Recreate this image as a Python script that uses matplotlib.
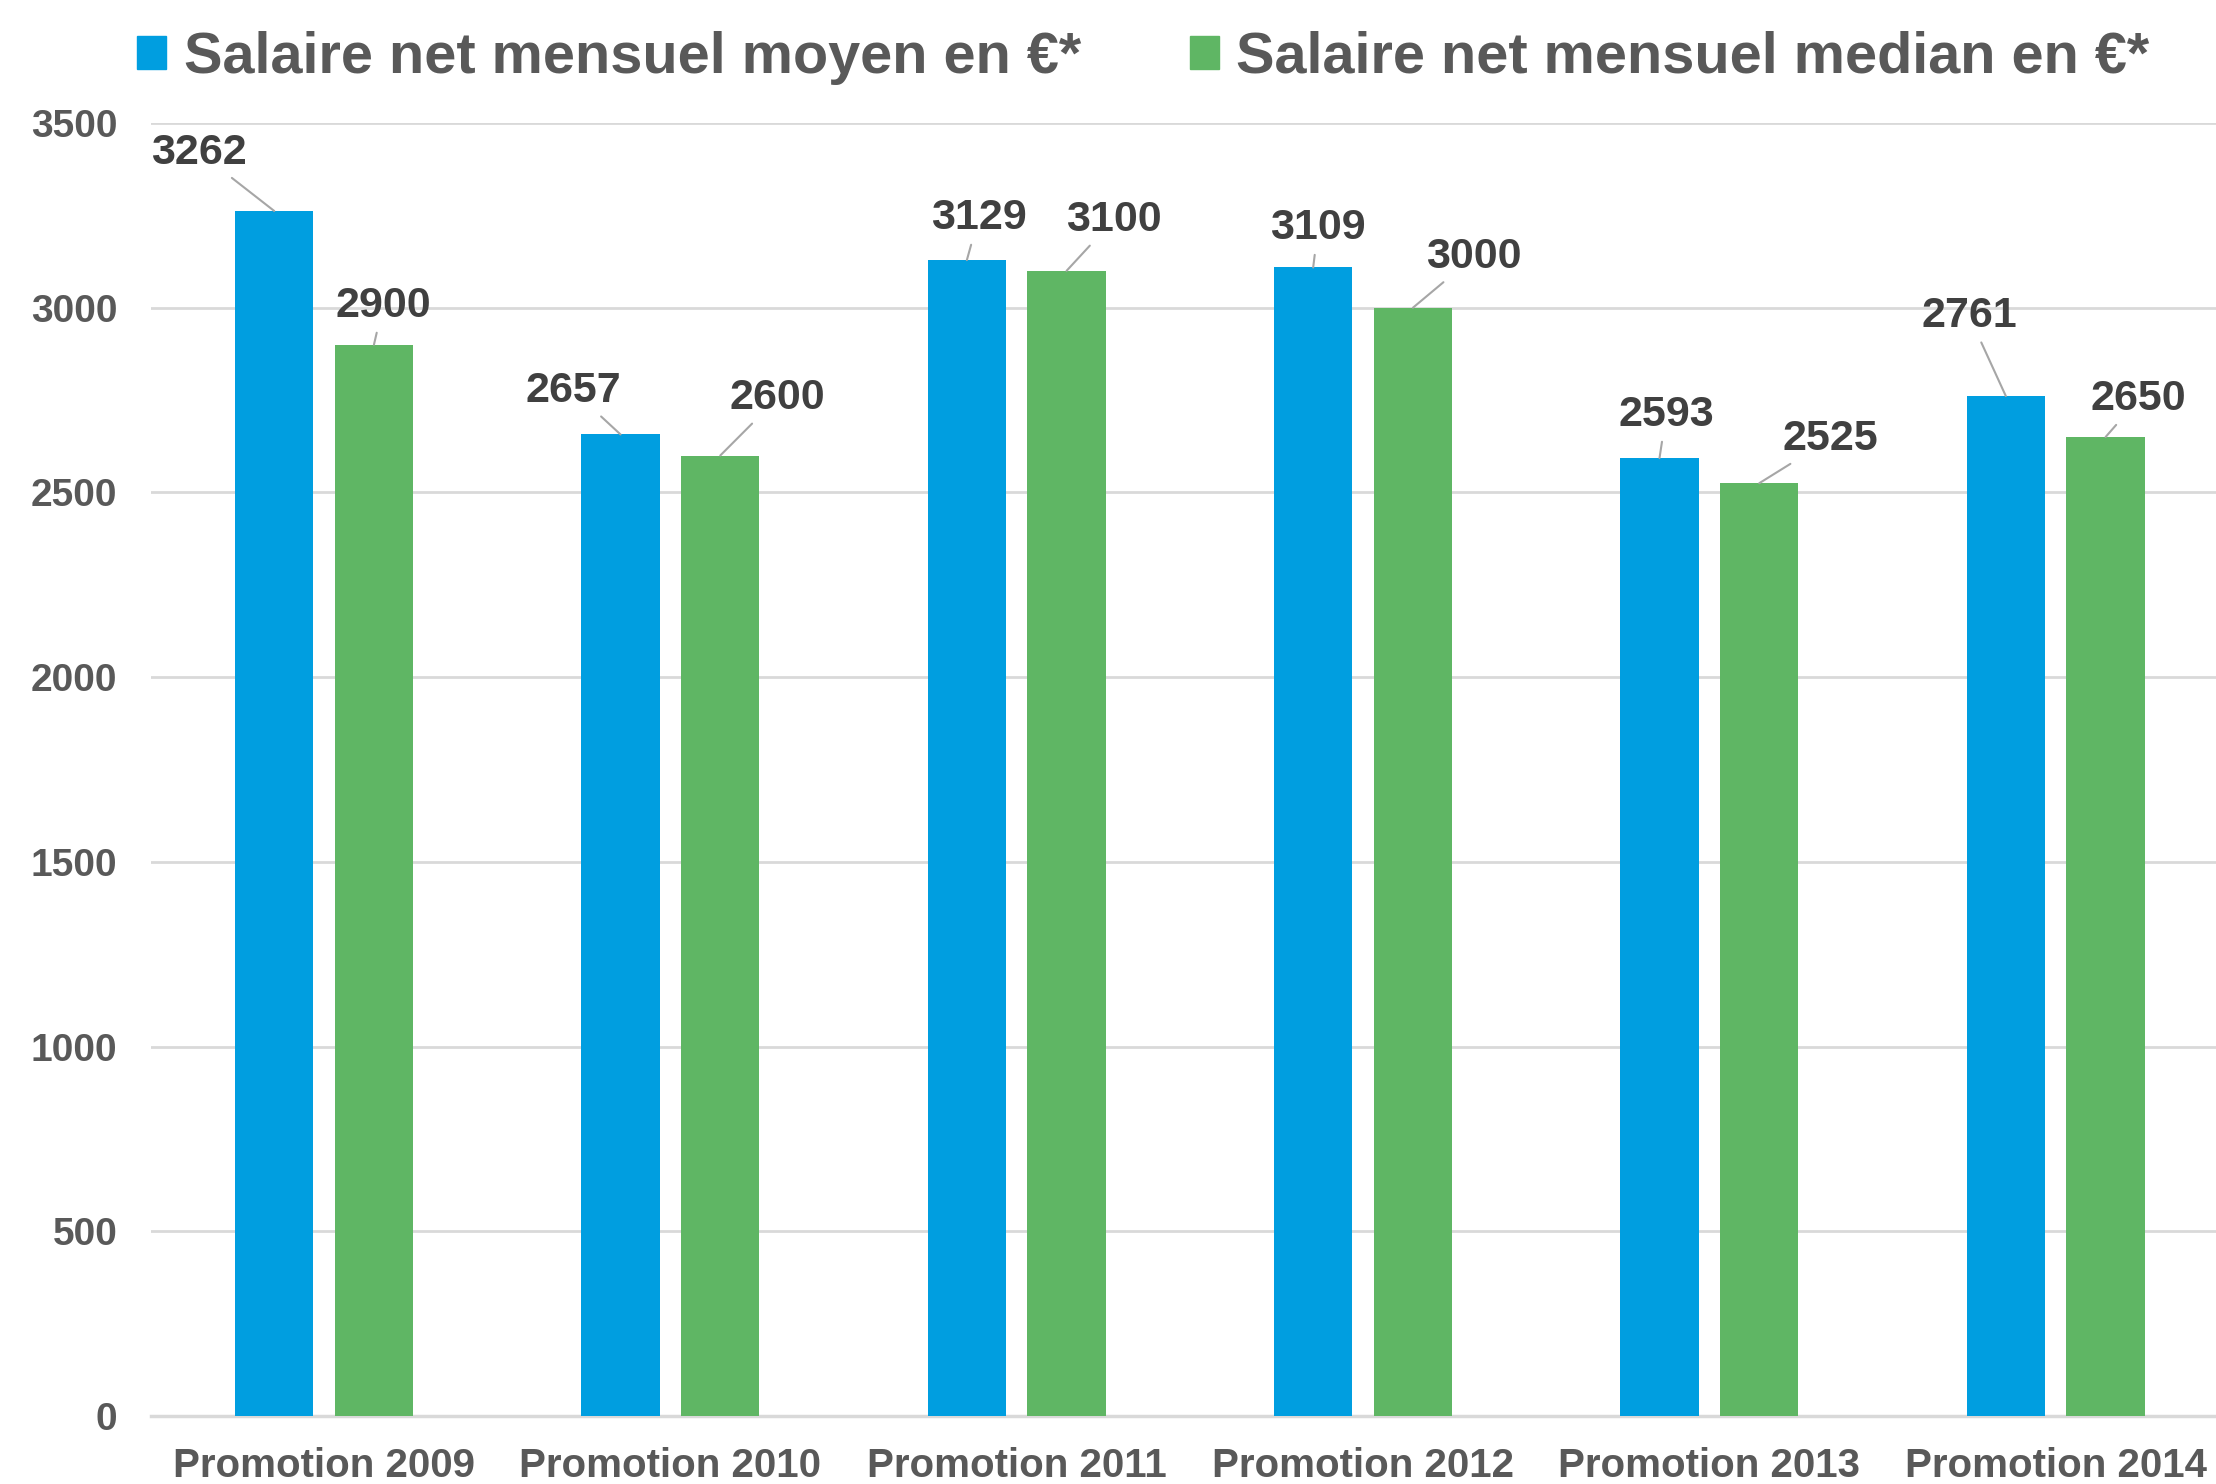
import numpy as np
import matplotlib
matplotlib.use("Agg")
import matplotlib.pyplot as plt
from matplotlib.patches import Patch

plt.rcParams["font.family"] = ["Liberation Sans", "DejaVu Sans"]
plt.rcParams["font.weight"] = "bold"

# data
categories = ["Promotion 2009", "Promotion 2010", "Promotion 2011",
              "Promotion 2012", "Promotion 2013", "Promotion 2014"]
moyen = [3262, 2657, 3129, 3109, 2593, 2761]
median = [2900, 2600, 3100, 3000, 2525, 2650]
series_names = ["Salaire net mensuel moyen en €*",
                "Salaire net mensuel median en €*"]
yticks = [0, 500, 1000, 1500, 2000, 2500, 3000, 3500]

# label placement (x offset from category, y in data units)
moyen_lbl = [(-0.36, 3420), (-0.28, 2775), (-0.11, 3243),
             (-0.13, 3216), (-0.125, 2710), (-0.25, 2978)]
median_lbl = [(0.17, 3005), (0.31, 2756), (0.28, 3238),
              (0.32, 3138), (0.35, 2645), (0.24, 2753)]

blue = "#009EE0"
green = "#5FB664"
grid_c = "#D9D9D9"
txt_c = "#595959"
lbl_c = "#404040"

fig = plt.figure(figsize=(22.16, 14.84), dpi=100)
ax = fig.add_axes([0.0681, 0.0458, 0.9377, 0.8713])

x = np.arange(len(categories))
w = 0.226
off = 0.144
ax.bar(x - off, moyen, w, color=blue, zorder=3)
ax.bar(x + off, median, w, color=green, zorder=3)

for i in range(len(categories)):
    for val, (dx, ly), xo in ((moyen[i], moyen_lbl[i], -off),
                              (median[i], median_lbl[i], off)):
        ax.annotate(str(val), xy=(i + xo, val), xytext=(i + dx, ly),
                    textcoords="data", ha="center", va="center",
                    fontsize=31, fontweight="bold", color=lbl_c,
                    arrowprops=dict(arrowstyle="-", color="#A6A6A6", lw=1.5,
                                    shrinkA=3, shrinkB=0),
                    zorder=4)

ax.set_xlim(-0.5, len(categories) - 0.5)
ax.set_ylim(0, 3500)
ax.set_yticks(yticks)
ax.set_xticks(x)
ax.set_xticklabels(categories)
ax.yaxis.grid(True, color=grid_c, lw=2, zorder=0)
ax.set_axisbelow(True)
for s in ("top", "right", "left"):
    ax.spines[s].set_visible(False)
ax.spines["bottom"].set_color(grid_c)
ax.spines["bottom"].set_linewidth(2.5)
ax.tick_params(axis="y", length=0, pad=24, labelsize=28, labelcolor=txt_c)
ax.tick_params(axis="x", length=0, pad=22, labelsize=29, labelcolor=txt_c)

handles = [Patch(color=blue), Patch(color=green)]
leg = fig.legend(handles, series_names, loc="center left",
                 bbox_to_anchor=(0.062, 0.961), ncol=2, frameon=False,
                 prop={"size": 41.5, "weight": "bold"},
                 handlelength=0.5, handleheight=0.5, handletextpad=0.3,
                 columnspacing=1.9, borderaxespad=0, borderpad=0)
for t in leg.get_texts():
    t.set_color(txt_c)

fig.savefig("out.png", dpi=100)
